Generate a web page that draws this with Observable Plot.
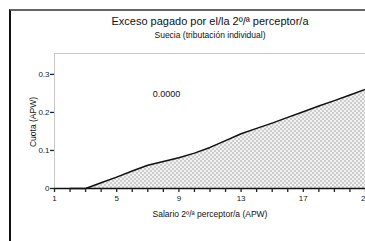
<!DOCTYPE html>
<html><head><meta charset="utf-8">
<script src="https://cdn.jsdelivr.net/npm/d3@7"></script>
<script src="https://cdn.jsdelivr.net/npm/@observablehq/plot@0.6"></script>
<style>
body{margin:0;background:#fff;font-family:"Liberation Sans",Arial,sans-serif;color:#111;}
#wrap{position:relative;width:365px;height:241px;overflow:hidden;background:#fff;}
#frame{position:absolute;left:9px;top:9px;width:400px;height:300px;border-top:2px solid #666;border-left:2px solid #111;}
.t{position:absolute;left:0;width:420px;text-align:center;white-space:nowrap;line-height:1;}
#chart{position:absolute;left:0;top:0;}
#ylab{position:absolute;left:33px;top:122px;transform:translate(-50%,-50%) rotate(-90deg);font-size:8.5px;white-space:nowrap;line-height:1;}
</style></head><body>
<div id="wrap"><div id="frame"></div>
<div id="chart"></div>
<div class="t" id="title" style="top:16px;font-size:11px;"></div>
<div class="t" id="subtitle" style="top:31px;font-size:8.5px;"></div>
<div class="t" id="xlab" style="top:210px;font-size:8.5px;"></div>
<div id="ylab"></div>
</div>
<script>
const title = "Exceso pagado por el/la 2º/ª perceptor/a";
const subtitle = "Suecia (tributación individual)";
const xLabel = "Salario 2º/ª perceptor/a (APW)";
const yLabel = "Cuota (APW)";
const salary = [2,3,4,5,6,7,8,9,10,11,12,13,14,15,16,17,18,19,20,21];
const quota = [0,0,0.015,0.030,0.046,0.061,0.071,0.081,0.093,0.108,0.126,0.144,0.158,0.172,0.187,0.202,0.217,0.231,0.246,0.261];
const yTicks = [0,0.1,0.2,0.3];
const xTicks = [1,2,3,4,5,6,7,8,9,10,11,12,13,14,15,16,17,18,19,20,21];
const xLabeled = [1,5,9,13,17,21];
const annotation = [{x: 8.2, y: 0.247, text: "0.0000"}];

document.getElementById("title").textContent = title;
document.getElementById("subtitle").textContent = subtitle;
document.getElementById("xlab").textContent = xLabel;
document.getElementById("ylab").textContent = yLabel;

const data = salary.map((s, i) => ({s, q: quota[i]}));

const plot = Plot.plot({
  width: 365, height: 241,
  marginLeft: 54, marginRight: 0, marginTop: 53, marginBottom: 53,
  style: {fontFamily: "Liberation Sans, Arial, sans-serif", fontSize: "8px", color: "#222", background: "transparent"},
  x: {domain: [1, 21]},
  y: {domain: [0, 0.355]},
  marks: [
    Plot.frame({stroke: "#c8c8c8"}),
    Plot.areaY(data, {x: "s", y: "q", fill: "url(#chk)"}),
    Plot.lineY(data, {x: "s", y: "q", stroke: "#111", strokeWidth: 1.5}),
    Plot.ruleY([0], {stroke: "#111", strokeWidth: 1.3}),
    Plot.axisY(yTicks, {ticks: yTicks, tickSize: 4, tickPadding: 1, stroke: "#222", strokeWidth: 1.3,
      tickFormat: d => d === 0 ? "0" : d3.format(".1f")(d), label: null}),
    Plot.axisX(xTicks, {ticks: xTicks, tickSize: 4, tickPadding: 3, stroke: "#222", strokeWidth: 1.3,
      tickFormat: d => xLabeled.includes(d) ? String(d) : "", label: null}),
    Plot.text(annotation, {x: "x", y: "y", text: "text", fontSize: 9, fill: "#111"})
  ]
});
const ns = "http://www.w3.org/2000/svg";
const defs = document.createElementNS(ns, "defs");
defs.innerHTML = '<pattern id="chk" width="4" height="4" patternUnits="userSpaceOnUse"><rect width="4" height="4" fill="#f2f2f2"/><rect width="2" height="2" fill="#cdcdcd"/><rect x="2" y="2" width="2" height="2" fill="#cdcdcd"/></pattern>';
plot.insertBefore(defs, plot.firstChild);
document.getElementById("chart").appendChild(plot);
</script>
</body></html>
